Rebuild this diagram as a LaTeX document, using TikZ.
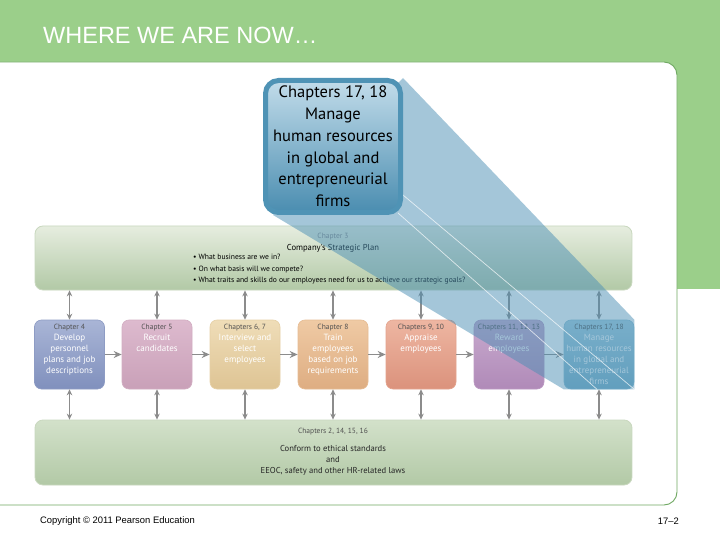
\documentclass[tikz,border=0pt]{standalone}
\usepackage{fontspec}
\setmainfont{Liberation Sans}
\newfontfamily\dfont{PT Sans}
\usetikzlibrary{arrows.meta,shadings}
\definecolor{bannergreen}{HTML}{9BCF8A}
\definecolor{panelline}{HTML}{6FA862}
\definecolor{chapgray}{HTML}{505050}
\definecolor{arrgray}{HTML}{8C8C8C}
\definecolor{plantop}{HTML}{E6EDDF}
\definecolor{lawtop}{HTML}{D3E1CA}
\definecolor{planbot}{HTML}{B2C9A6}
\definecolor{planrim}{HTML}{C9D8BF}
\definecolor{beamblue}{HTML}{4B8FB5}
\definecolor{callrim}{HTML}{4F93B5}
\definecolor{calltop}{HTML}{C2DCEA}
\definecolor{callbot}{HTML}{4A8DB0}
\definecolor{t1}{HTML}{A9B5D6}\definecolor{u1}{HTML}{8090BD}\definecolor{r1}{HTML}{8E9CC4}
\definecolor{t2}{HTML}{DDBACE}\definecolor{u2}{HTML}{C9A0B8}\definecolor{r2}{HTML}{D2AEC2}
\definecolor{t3}{HTML}{EFDDB8}\definecolor{u3}{HTML}{DEC494}\definecolor{r3}{HTML}{E6D0A6}
\definecolor{t4}{HTML}{EFCAA4}\definecolor{u4}{HTML}{DEAD82}\definecolor{r4}{HTML}{E6BC94}
\definecolor{t5}{HTML}{EEB6A2}\definecolor{u5}{HTML}{DB927C}\definecolor{r5}{HTML}{E4A48E}
\definecolor{t6}{HTML}{C8AACE}\definecolor{u6}{HTML}{B08AB8}\definecolor{r6}{HTML}{BC9AC3}
\definecolor{t7}{HTML}{A8CFE0}\definecolor{u7}{HTML}{7AB0C8}\definecolor{r7}{HTML}{90C0D4}
\newcommand\rowtxt[2]{\parbox[c][60pt][t]{66pt}{\centering\dfont\color{chapgray}\fontsize{7.5}{10}\selectfont #1\par\color{white}\fontsize{9}{11}\selectfont #2\par}}
\tikzset{
  rowbox/.style={rounded corners=7pt, minimum width=68pt, minimum height=69pt,
     inner sep=2pt, line width=0.6pt, top color=t#1, bottom color=u#1, draw=r#1},
  bigbox/.style={rounded corners=8pt, top color=plantop, bottom color=planbot, draw=planrim, line width=0.8pt},
  harrow/.style={draw=arrgray, line width=1.8pt, -{Stealth[length=8pt,width=7pt]}},
  varrow/.style={draw=arrgray, line width=1.3pt, {Stealth[length=6pt,width=5.5pt]}-{Stealth[length=6pt,width=5.5pt]}},
  dtext/.style={font=\dfont\fontsize{#1}{11}\selectfont, inner sep=0pt},
  beam/.style={fill=beamblue, fill opacity=0.5},
  beamline/.style={draw=white, draw opacity=0.7, line width=0.7pt},
  callbox/.style={rounded corners=13pt, draw=callrim, line width=5pt, top color=calltop, bottom color=callbot,
     minimum width=135pt, minimum height=132pt, inner sep=0pt, align=center,
     font=\dfont\fontsize{16.5}{21.8}\selectfont}
}
\begin{document}
\begin{tikzpicture}[x=1pt,y=-1pt]
\useasboundingbox (0,0) rectangle (720,540);
% background
\fill[white] (0,0) rectangle (720,540);
\fill[bannergreen] (0,0) rectangle (720,62);
\fill[bannergreen] (660,0) rectangle (720,289);
\draw[fill=white, draw=panelline, line width=0.9pt, rounded corners=13pt] (-2,62) -- (677,62) -- (677,505) -- (-2,505);
\node[anchor=west, text=white, font=\fontsize{23.5}{26}\selectfont, inner sep=0pt] (title) at (43,35) {WHERE WE ARE NOW…};

% strategic plan
\node[bigbox, minimum width=597pt, minimum height=64pt] (plan) at (333.5,258) {};
\node[dtext=7.5, text=chapgray!70] (p1) at (333,237) {Chapter 3};
\node[dtext=8.6] (p2) at (333,248) {Company's Strategic Plan};
\node[anchor=north west, align=left, inner sep=0pt, font=\dfont\fontsize{7.6}{11.5}\selectfont] (p3) at (193,254)
  {• What business are we in?\\• On what basis will we compete?\\• What traits and skills do our employees need for us to achieve our strategic goals?};

% row boxes
\node[rowbox=1] (b1) at (69.5,354.5) {\rowtxt{Chapter 4}{Develop\\personnel\\plans and job\\descriptions}};
\node[rowbox=2] (b2) at (157,354.5) {\rowtxt{Chapter 5}{Recruit\\candidates}};
\node[rowbox=3] (b3) at (245,354.5) {\rowtxt{Chapters 6, 7}{Interview and\\select\\employees}};
\node[rowbox=4] (b4) at (333,354.5) {\rowtxt{Chapter 8}{Train\\employees\\based on job\\requirements}};
\node[rowbox=5] (b5) at (421,354.5) {\rowtxt{Chapters 9, 10}{Appraise\\employees}};
\node[rowbox=6] (b6) at (509,354.5) {\rowtxt{Chapters 11, 12, 13}{Reward\\employees}};
\node[rowbox=7] (b7) at (599,354.5) {\rowtxt{Chapters 17, 18}{Manage\\human resources\\in global and\\entrepreneurial\\firms}};

% bottom box
\node[bigbox, top color=lawtop, minimum width=597pt, minimum height=65pt] (law) at (333.5,452.5) {};
\node[dtext=7.5, text=chapgray] (l1) at (333,432) {Chapters 2, 14, 15, 16};
\node[align=center, inner sep=0pt, font=\dfont\fontsize{8.6}{11}\selectfont, text=black!85] (l2) at (333,460)
  {Conform to ethical standards\\and\\EEOC, safety and other HR-related laws};

% horizontal arrows
\draw[harrow] (b1.east) -- (b2.west);
\draw[harrow] (b2.east) -- (b3.west);
\draw[harrow] (b3.east) -- (b4.west);
\draw[harrow] (b4.east) -- (b5.west);
\draw[harrow] (b5.east) -- (b6.west);
\draw[harrow] (b6.east) -- (b7.west);

% vertical arrows
\foreach \b in {b1,b2,b3,b4,b5,b6,b7}{
  \draw[varrow] (\b.north |- plan.south) -- (\b.north);
  \draw[varrow] (\b.south) -- (\b.south |- law.north);
}

% beam and callout
\coordinate (cNE) at (403,78);
\coordinate (cSW) at (273,215);
\coordinate (cR1) at (403,195);
\coordinate (cR2) at (398,213);
\fill[beam] (cNE) -- (b7.north east) -- (b7.south east) -- (b7.south west) -- (cSW) -- cycle;
\draw[beamline] (cR1) -- (b7.south east);
\draw[beamline] (cR2) -- ([xshift=-2pt]b7.south);
\node[callbox] (call) at (333,146.5) {Chapters 17, 18\\Manage\\human resources\\in global and\\entrepreneurial\\firms};

% footer
\node[anchor=west, inner sep=0pt, font=\fontsize{9.4}{10}\selectfont] (copy) at (40,521) {Copyright © 2011 Pearson Education};
\node[anchor=east, inner sep=0pt, font=\fontsize{9.4}{10}\selectfont] (pg) at (679,521) {17–2};
\end{tikzpicture}
\end{document}
